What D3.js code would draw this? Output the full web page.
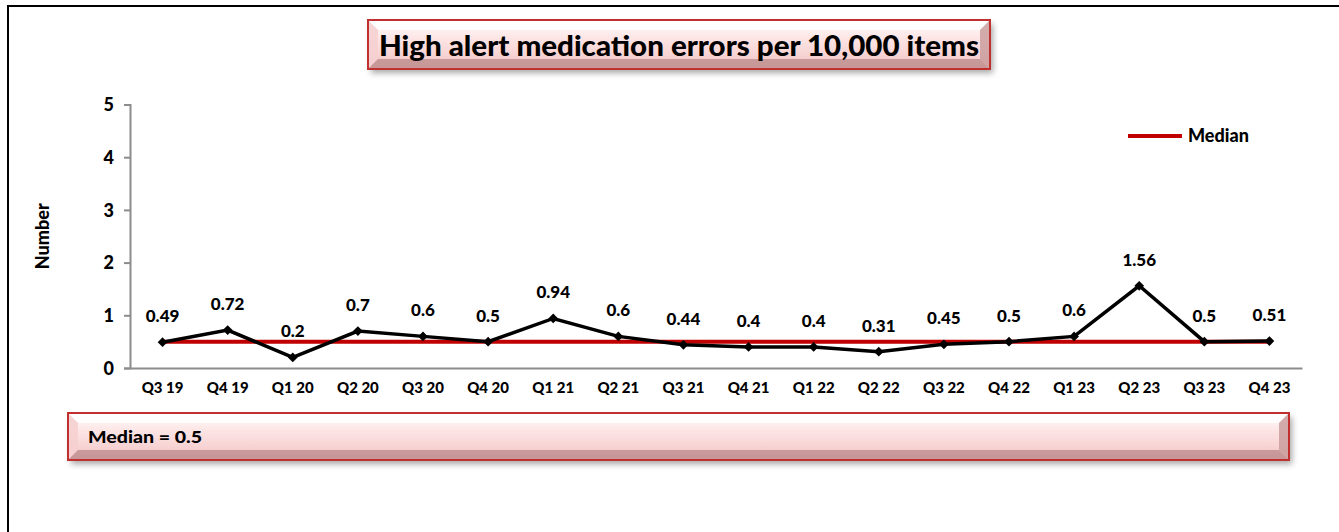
<!DOCTYPE html>
<html>
<head>
<meta charset="utf-8">
<script src="https://cdn.jsdelivr.net/npm/d3@7"></script>
<style>
  body { margin: 0; background: #fff; }
  text { font-family: Lato, "Open Sans", sans-serif; font-weight: 900; fill: #000; }
</style>
</head>
<body>
<script>
// chart data
var quarters = ['Q3 19', 'Q4 19', 'Q1 20', 'Q2 20', 'Q3 20', 'Q4 20', 'Q1 21', 'Q2 21', 'Q3 21',
                'Q4 21', 'Q1 22', 'Q2 22', 'Q3 22', 'Q4 22', 'Q1 23', 'Q2 23', 'Q3 23', 'Q4 23'];
var errorRates = [0.49, 0.72, 0.2, 0.7, 0.6, 0.5, 0.94, 0.6, 0.44, 0.4, 0.4, 0.31, 0.45, 0.5, 0.6, 1.56, 0.5, 0.51];
var medianValues = [0.5, 0.5, 0.5, 0.5, 0.5, 0.5, 0.5, 0.5, 0.5, 0.5, 0.5, 0.5, 0.5, 0.5, 0.5, 0.5, 0.5, 0.5];
var yTicks = [0, 1, 2, 3, 4, 5];
var titleText = 'High alert medication errors per 10,000 items';
var medianNote = 'Median = 0.5';

var width = 1339,
    height = 532;

var plot = { left: 130, right: 1302, top: 104.5, bottom: 368 };

var svg = d3.select('body').append('svg')
    .attr('width', width)
    .attr('height', height);

var defs = svg.append('defs');

var grad = defs.append('linearGradient')
    .attr('id', 'boxFill')
    .attr('x1', 0).attr('y1', 0).attr('x2', 0).attr('y2', 1);
grad.append('stop').attr('offset', '0%').attr('stop-color', '#ffffff');
grad.append('stop').attr('offset', '35%').attr('stop-color', '#fde6e6');
grad.append('stop').attr('offset', '70%').attr('stop-color', '#f8d4d4');
grad.append('stop').attr('offset', '100%').attr('stop-color', '#f0bcbc');

var shadow = defs.append('filter')
    .attr('id', 'shadow')
    .attr('x', '-5%').attr('y', '-20%').attr('width', '115%').attr('height', '160%');
shadow.append('feDropShadow')
    .attr('dx', 3).attr('dy', 4).attr('stdDeviation', 3)
    .attr('flood-color', '#000').attr('flood-opacity', 0.35);

// outer frame
svg.append('rect')
    .attr('x', 8).attr('y', 6)
    .attr('width', width + 10).attr('height', height + 10)
    .attr('fill', 'none')
    .attr('stroke', '#000')
    .attr('stroke-width', 2);

function bevelBox(x, y, w, h, bevel) {
    var g = svg.append('g');
    g.append('rect')
        .attr('x', x).attr('y', y).attr('width', w).attr('height', h)
        .attr('fill', 'url(#boxFill)')
        .attr('filter', 'url(#shadow)');
    // bevel faces
    g.append('polygon')
        .attr('points', [[x, y], [x + w, y], [x + w - bevel, y + bevel], [x + bevel, y + bevel]].join(' '))
        .attr('fill', '#ffffff').attr('opacity', 0.8);
    g.append('polygon')
        .attr('points', [[x, y], [x + bevel, y + bevel], [x + bevel, y + h - bevel], [x, y + h]].join(' '))
        .attr('fill', '#f6d0d0').attr('opacity', 0.9);
    g.append('polygon')
        .attr('points', [[x + w, y], [x + w, y + h], [x + w - bevel, y + h - bevel], [x + w - bevel, y + bevel]].join(' '))
        .attr('fill', '#c89a9a').attr('opacity', 0.8);
    g.append('polygon')
        .attr('points', [[x, y + h], [x + bevel, y + h - bevel], [x + w - bevel, y + h - bevel], [x + w, y + h]].join(' '))
        .attr('fill', '#b98a8a').attr('opacity', 0.75);
    g.append('rect')
        .attr('x', x).attr('y', y).attr('width', w).attr('height', h)
        .attr('fill', 'none')
        .attr('stroke', '#c0302e')
        .attr('stroke-width', 2);
    return g;
}

// title
var titleBox = bevelBox(368, 20, 622, 49, 10);
titleBox.append('text')
    .attr('x', 679).attr('y', 56)
    .attr('text-anchor', 'middle')
    .attr('font-size', 29)
    .attr('textLength', 600)
    .attr('lengthAdjust', 'spacingAndGlyphs')
    .text(titleText);

// median note
var noteBox = bevelBox(68, 413, 1221, 47, 10);
noteBox.append('text')
    .attr('x', 88).attr('y', 443)
    .attr('font-size', 17)
    .attr('textLength', 114)
    .attr('lengthAdjust', 'spacingAndGlyphs')
    .text(medianNote);

// scales
var x = d3.scaleBand()
    .domain(quarters)
    .range([plot.left, plot.right]);

var y = d3.scaleLinear()
    .domain([0, 5])
    .range([plot.bottom, plot.top]);

var cx = function(d, i) { return x(quarters[i]) + x.bandwidth() / 2; };

// axes
var yAxis = svg.append('g')
    .attr('transform', 'translate(' + plot.left + ',0)')
    .call(d3.axisLeft(y).tickValues(yTicks).tickFormat(d3.format('d')).tickSize(6).tickPadding(10));

yAxis.select('.domain').attr('stroke', '#8c8c8c').attr('stroke-width', 2);
yAxis.selectAll('.tick line').attr('stroke', '#8c8c8c').attr('stroke-width', 2);
yAxis.selectAll('.tick text').attr('font-size', 18).attr('dy', '0.35em')
    .style('font-family', 'Lato, sans-serif').style('font-weight', '900');

var xAxis = svg.append('g')
    .attr('transform', 'translate(0,' + plot.bottom + ')')
    .call(d3.axisBottom(x).tickSize(0).tickPadding(14));

xAxis.select('.domain').attr('stroke', '#8c8c8c').attr('stroke-width', 2);
xAxis.selectAll('.tick text').attr('font-size', 15)
    .style('font-family', 'Lato, sans-serif').style('font-weight', '900');

// y axis title
svg.append('text')
    .attr('transform', 'translate(49,' + ((plot.top + plot.bottom) / 2) + ') rotate(-90)')
    .attr('text-anchor', 'middle')
    .attr('font-size', 18)
    .text('Number');

// median line
var medianLine = d3.line()
    .x(cx)
    .y(function(d) { return y(d); });

svg.append('path')
    .datum(medianValues)
    .attr('d', medianLine)
    .attr('fill', 'none')
    .attr('stroke', '#c00000')
    .attr('stroke-width', 4);

// data line
var dataLine = d3.line()
    .x(cx)
    .y(function(d) { return y(d); });

svg.append('path')
    .datum(errorRates)
    .attr('d', dataLine)
    .attr('fill', 'none')
    .attr('stroke', '#000')
    .attr('stroke-width', 3.5)
    .attr('stroke-linejoin', 'miter');

svg.selectAll('.marker')
    .data(errorRates)
    .enter().append('path')
        .attr('class', 'marker')
        .attr('d', d3.symbol().type(d3.symbolDiamond2).size(60))
        .attr('transform', function(d, i) {
            return 'translate(' + cx(d, i) + ',' + y(d) + ')';
        })
        .attr('fill', '#000');

svg.selectAll('.value-label')
    .data(errorRates)
    .enter().append('text')
        .attr('class', 'value-label')
        .attr('x', cx)
        .attr('y', function(d) { return y(d) - 20; })
        .attr('text-anchor', 'middle')
        .attr('font-size', 17)
        .text(function(d) { return d; });

// legend
var legend = svg.append('g')
    .attr('transform', 'translate(1128,136)');

legend.append('line')
    .attr('x1', 0).attr('x2', 54)
    .attr('stroke', '#c00000')
    .attr('stroke-width', 4);

legend.append('text')
    .attr('x', 60).attr('y', 6)
    .attr('font-size', 18)
    .text('Median');
</script>
</body>
</html>
